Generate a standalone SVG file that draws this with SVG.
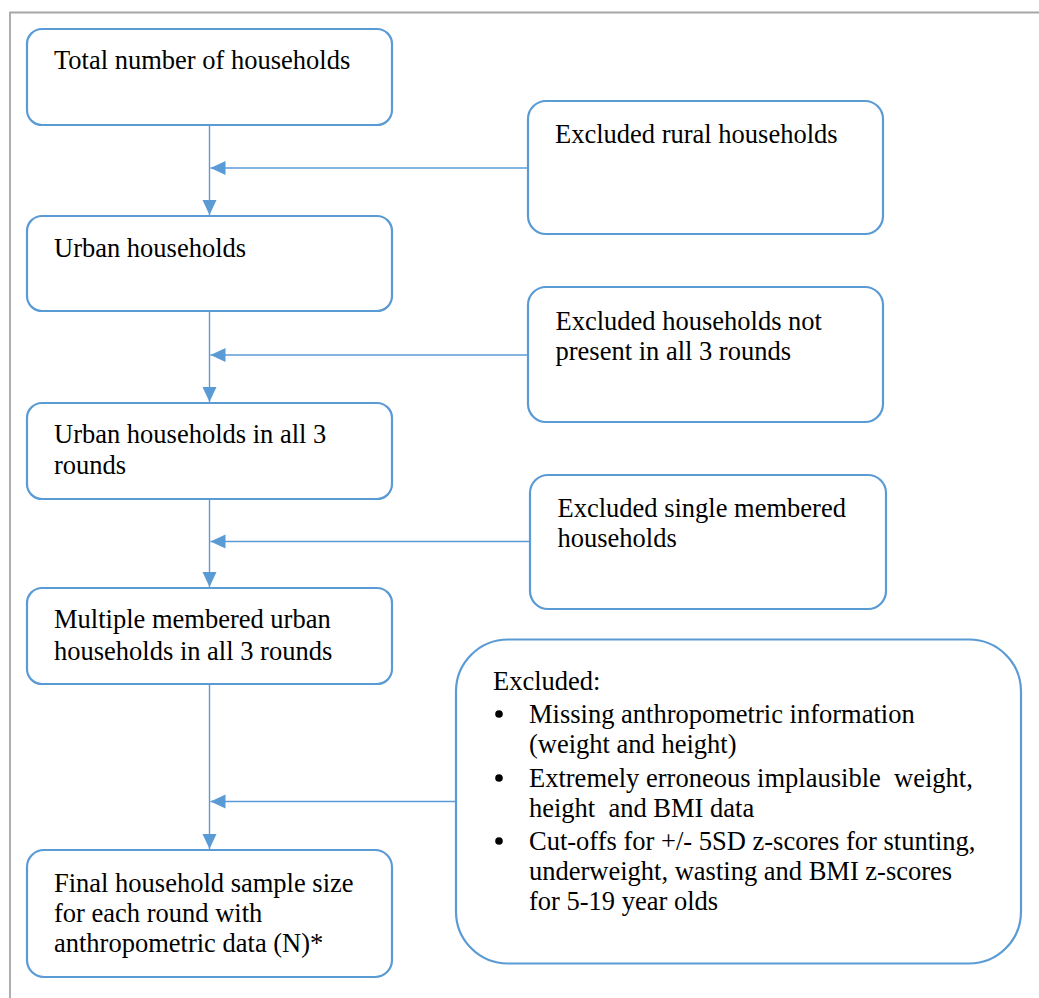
<svg xmlns="http://www.w3.org/2000/svg" width="1039" height="998" viewBox="0 0 1039 998">
<style>
text{font-family:"Liberation Serif","Times New Roman",serif;font-size:26.5px;fill:#000;white-space:pre}
.box{fill:#fff;stroke:#5b9bd5;stroke-width:2.2}
.con{fill:none;stroke:#5b9bd5;stroke-width:1.4}
.frame{fill:none;stroke:#a6a6a6;stroke-width:1.8}
</style>
<defs>
<marker id="arr" markerUnits="userSpaceOnUse" markerWidth="16" markerHeight="16" refX="15" refY="7" orient="auto">
<path d="M0,0 L15,7 L0,14 Z" fill="#5b9bd5"/>
</marker>
</defs>
<rect width="1039" height="998" fill="#fff"/>
<path class="frame" d="M10,998 V12.5 H1039"/>
<g id="connectors">
<line class="con" x1="209.5" y1="125" x2="209.5" y2="215" marker-end="url(#arr)"/>
<line class="con" x1="528" y1="168" x2="210.5" y2="168" marker-end="url(#arr)"/>
<line class="con" x1="209.5" y1="311" x2="209.5" y2="402" marker-end="url(#arr)"/>
<line class="con" x1="528" y1="355" x2="210.5" y2="355" marker-end="url(#arr)"/>
<line class="con" x1="209.5" y1="499" x2="209.5" y2="587" marker-end="url(#arr)"/>
<line class="con" x1="530" y1="541.5" x2="210.5" y2="541.5" marker-end="url(#arr)"/>
<line class="con" x1="209.5" y1="684" x2="209.5" y2="849" marker-end="url(#arr)"/>
<line class="con" x1="456" y1="801.5" x2="210.5" y2="801.5" marker-end="url(#arr)"/>
</g>
<g id="n1">
<rect class="box" x="27" y="29" width="365" height="96" rx="15"/>
<text x="54" y="69">Total number of households</text>
</g>
<g id="n2">
<rect class="box" x="27" y="216" width="365" height="95" rx="15"/>
<text x="54" y="257">Urban households</text>
</g>
<g id="n3">
<rect class="box" x="27" y="403" width="365" height="96" rx="15"/>
<text x="54" y="443">Urban households in all 3</text>
<text x="54" y="474">rounds</text>
</g>
<g id="n4">
<rect class="box" x="27" y="588" width="365" height="96" rx="15"/>
<text x="54" y="628">Multiple membered urban</text>
<text x="54" y="660">households in all 3 rounds</text>
</g>
<g id="n5">
<rect class="box" x="27" y="850" width="365" height="127" rx="17"/>
<text x="54" y="892">Final household sample size</text>
<text x="54" y="922">for each round with</text>
<text x="54" y="952">anthropometric data (N)*</text>
</g>
<g id="r1">
<rect class="box" x="528" y="101" width="355" height="133" rx="18"/>
<text x="555" y="143">Excluded rural households</text>
</g>
<g id="r2">
<rect class="box" x="528" y="287" width="355" height="135" rx="18"/>
<text x="555.5" y="330">Excluded households not</text>
<text x="555.5" y="360">present in all 3 rounds</text>
</g>
<g id="r3">
<rect class="box" x="530" y="475" width="356" height="134" rx="18"/>
<text x="557.5" y="517">Excluded single membered</text>
<text x="557.5" y="547">households</text>
</g>
<g id="r4">
<rect class="box" x="456" y="639.5" width="565" height="324" rx="52"/>
<text x="493" y="690">Excluded:</text>
<circle cx="499" cy="714" r="3.8" fill="#000"/>
<text x="529" y="723">Missing anthropometric information</text>
<text x="529" y="753">(weight and height)</text>
<circle cx="499" cy="778" r="3.8" fill="#000"/>
<text x="529" y="787">Extremely erroneous implausible  weight,</text>
<text x="529" y="817">height  and BMI data</text>
<circle cx="499" cy="841" r="3.8" fill="#000"/>
<text x="529" y="850">Cut-offs for +/- 5SD z-scores for stunting,</text>
<text x="529" y="880">underweight, wasting and BMI z-scores</text>
<text x="529" y="910">for 5-19 year olds</text>
</g>
</svg>
